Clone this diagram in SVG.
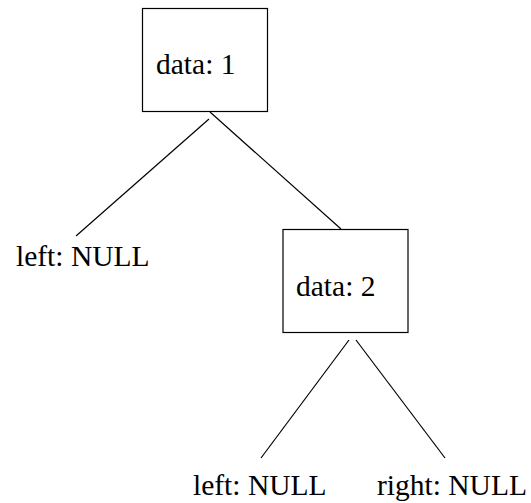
<svg xmlns="http://www.w3.org/2000/svg" width="531" height="503" viewBox="0 0 531 503">
<style>
.box{fill:#fff;stroke:#000;stroke-width:1.2}
.edge{stroke:#000;stroke-width:1.2;fill:none}
text{font-family:"Liberation Serif","Times New Roman",serif;font-size:29.5px;fill:#000}
</style>
<rect width="531" height="503" fill="#fff"/>
<g id="connectors">
<line class="edge" x1="209" y1="119" x2="76" y2="236"/>
<line class="edge" x1="210" y1="112" x2="341" y2="229"/>
<line class="edge" x1="349" y1="340" x2="261" y2="458"/>
<line class="edge" x1="356" y1="340" x2="445" y2="458"/>
</g>
<g id="node1">
<rect class="box" x="142.5" y="8.5" width="125" height="103"/>
<text x="156" y="74">data: 1</text>
</g>
<g id="null1">
<text x="16" y="266">left: NULL</text>
</g>
<g id="node2">
<rect class="box" x="283" y="229.5" width="125" height="103"/>
<text x="296" y="296">data: 2</text>
</g>
<g id="null2">
<text x="193" y="495">left: NULL</text>
</g>
<g id="null3">
<text x="377" y="495">right: NULL</text>
</g>
</svg>
